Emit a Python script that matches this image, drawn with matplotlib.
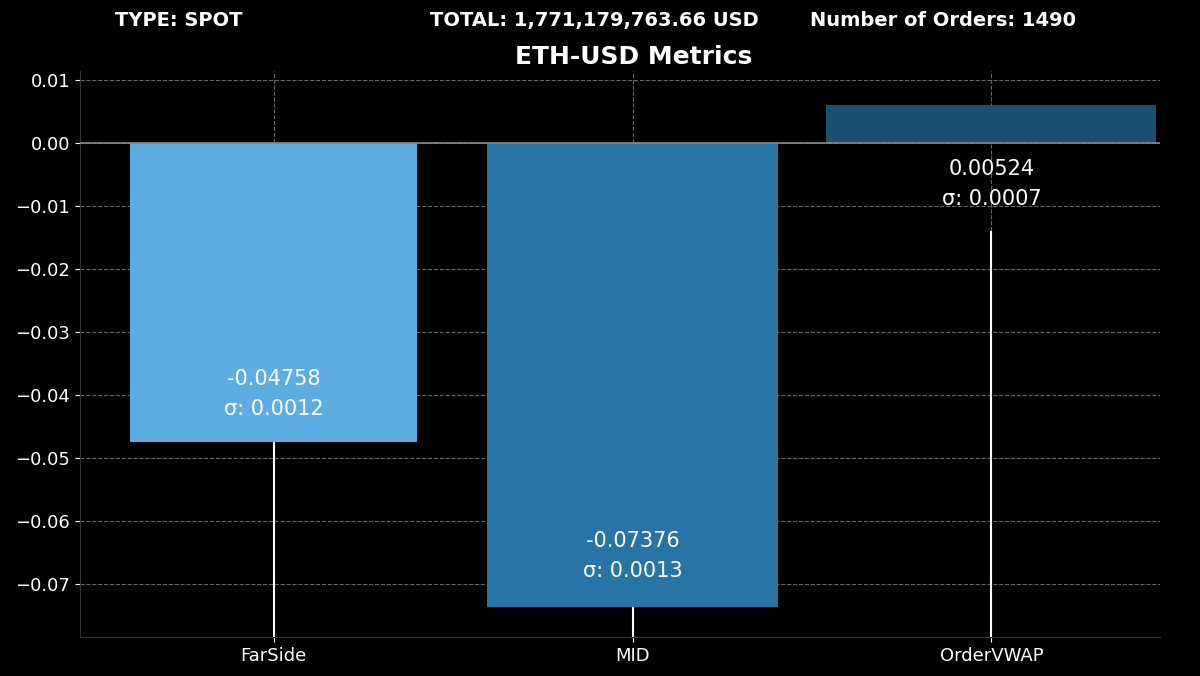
import matplotlib
matplotlib.use("Agg")
import matplotlib.pyplot as plt

categories = ["FarSide", "MID", "OrderVWAP"]
bar_values = [-0.0475, -0.0737, 0.0060]
labels = ["-0.04758\nσ: 0.0012", "-0.07376\nσ: 0.0013", "0.00524\nσ: 0.0007"]
label_y = [-0.0398, -0.0655, -0.0065]
line_tops = [-0.0475, -0.0737, -0.0140]
colors = ["#5DADE2", "#2874A6", "#1B4F72"]
widths = [0.8, 0.81, 0.92]

fig = plt.figure(figsize=(12, 6.76), dpi=100, facecolor="black")
ax = fig.add_axes([0.0667, 0.0577, 0.9, 0.838], facecolor="black")
x = list(range(len(categories)))
ax.bar(x, bar_values, width=widths, color=colors, zorder=2)
ymin, ymax = -0.0784, 0.0115
ax.vlines(x, [ymin]*3, line_tops, color="white", lw=1.5, zorder=3)
ax.axhline(0, color="#888888", lw=1.2, zorder=3)
for xi, t, yy in zip(x, labels, label_y):
    ax.text(xi, yy, t, color="white", ha="center", va="center", fontsize=15,
            linespacing=1.6, zorder=4)
ax.set_ylim(ymin, ymax)
ax.set_xlim(-0.54, 2.47)
ax.set_xticks(x, categories)
ax.set_yticks([0.01, 0, -0.01, -0.02, -0.03, -0.04, -0.05, -0.06, -0.07])
ax.yaxis.set_major_formatter(matplotlib.ticker.FuncFormatter(lambda v, p: f"{v:.2f}".replace("-", "\u2212")))
ax.tick_params(colors="white", labelsize=13)
ax.grid(True, color="#666666", ls="--", lw=0.8, zorder=0)
for s in ["top", "right"]:
    ax.spines[s].set_visible(False)
for s in ["left", "bottom"]:
    ax.spines[s].set_color("#333333")
fig.text(0.096, 0.97, "TYPE: SPOT", color="white", fontsize=14, fontweight="bold", va="center")
fig.text(0.358, 0.97, "TOTAL: 1,771,179,763.66 USD", color="white", fontsize=14, fontweight="bold", va="center")
fig.text(0.675, 0.97, "Number of Orders: 1490", color="white", fontsize=14, fontweight="bold", va="center")
fig.text(0.528, 0.915, "ETH-USD Metrics", color="white", fontsize=18, fontweight="bold", ha="center", va="center")
fig.savefig("out.png", dpi=100, facecolor="black")
